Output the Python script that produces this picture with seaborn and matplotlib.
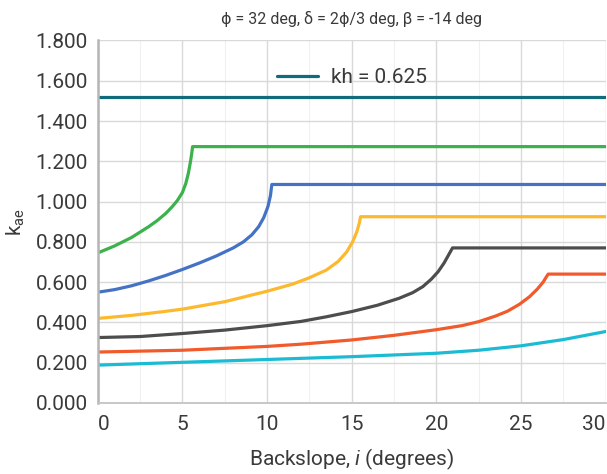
import matplotlib
matplotlib.use("Agg")
import matplotlib.pyplot as plt
import seaborn as sns
import pandas as pd
from matplotlib.ticker import MultipleLocator

# ---- data ----
teal_x = [0, 30]
teal_y = [1.52, 1.52]

green_x = [0, 1, 2, 3, 3.5, 4, 4.4, 4.7, 5.0, 5.2, 5.35, 5.48, 5.56, 5.6, 30]
green_y = [0.745, 0.78, 0.822, 0.875, 0.905, 0.94, 0.975, 1.005, 1.045, 1.09, 1.14, 1.2, 1.245, 1.273, 1.273]

blue_x = [0, 1, 2, 3, 4, 5, 6, 7, 8, 8.6, 9.1, 9.5, 9.8, 10.05, 10.2, 10.28, 30]
blue_y = [0.55, 0.563, 0.582, 0.606, 0.633, 0.663, 0.695, 0.73, 0.77, 0.80, 0.835, 0.875, 0.92, 0.975, 1.03, 1.085, 1.085]

yellow_x = [0, 2, 4, 5, 7.5, 10, 11.5, 12.5, 13.5, 14.2, 14.7, 15.05, 15.3, 15.45, 15.52, 30]
yellow_y = [0.42, 0.435, 0.455, 0.466, 0.503, 0.555, 0.59, 0.622, 0.66, 0.703, 0.75, 0.8, 0.85, 0.895, 0.925, 0.925]

gray_x = [0, 2.5, 5, 7.5, 10, 12, 13.5, 15, 16.5, 17.8, 18.6, 19.2, 19.7, 20.1, 20.45, 20.75, 20.95, 30]
gray_y = [0.325, 0.33, 0.345, 0.362, 0.384, 0.405, 0.428, 0.454, 0.485, 0.52, 0.548, 0.578, 0.615, 0.652, 0.695, 0.74, 0.77, 0.77]

orange_x = [0, 5, 10, 12, 15, 17.5, 20, 21.5, 22.5, 23.5, 24.2, 24.9, 25.5, 25.95, 26.3, 26.52, 26.6, 30]
orange_y = [0.253, 0.262, 0.281, 0.292, 0.313, 0.336, 0.364, 0.384, 0.404, 0.432, 0.456, 0.49, 0.528, 0.565, 0.6, 0.63, 0.64, 0.64]

cyan_x = [0, 5, 10, 15, 20, 22.5, 25, 27.5, 30]
cyan_y = [0.188, 0.202, 0.216, 0.23, 0.247, 0.262, 0.284, 0.315, 0.355]

series = [
    ("kh = 0.625", teal_x, teal_y, "#116b7b", True),
    ("g", green_x, green_y, "#3bb24b", False),
    ("b", blue_x, blue_y, "#4472c4", False),
    ("y", yellow_x, yellow_y, "#fdb92d", False),
    ("k", gray_x, gray_y, "#4d4d4d", False),
    ("o", orange_x, orange_y, "#f15a2b", False),
    ("c", cyan_x, cyan_y, "#1bbcd3", False),
]

x_ticks = [0, 5, 10, 15, 20, 25, 30]
y_ticks = [0.0, 0.2, 0.4, 0.6, 0.8, 1.0, 1.2, 1.4, 1.6, 1.8]

title = "\u03d5 = 32 deg, \u03b4 = 2\u03d5/3 deg, \u03b2 = -14 deg"

# ---- style ----
sns.set_theme(style="white")
plt.rcParams["font.family"] = ["Roboto", "DejaVu Sans"]
plt.rcParams["mathtext.fontset"] = "custom"
plt.rcParams["mathtext.rm"] = "Roboto"
plt.rcParams["mathtext.it"] = "Roboto:italic"

txt = "#3a3a3a"
fig = plt.figure(figsize=(6.07, 4.74), dpi=100)
ax = fig.add_axes([0.161, 0.1498, 0.837, 0.7648])

for name, xs, ys, col, leg in series:
    df = pd.DataFrame({"x": xs, "y": ys})
    sns.lineplot(data=df, x="x", y="y", ax=ax, color=col, linewidth=2.3,
                 estimator=None, sort=False, label=name if leg else None,
                 legend=leg)

ax.set_xlim(0, 30)
ax.set_ylim(0, 1.8)
ax.set_xticks(x_ticks)
ax.set_yticks(y_ticks)
ax.set_yticklabels([f"{v:.3f}" for v in y_ticks])
ax.xaxis.set_minor_locator(MultipleLocator(2.5))
ax.grid(True, which="major", color="#d9d9d9", linewidth=1.0)
ax.grid(True, which="minor", axis="x", color="#f0f0f0", linewidth=0.8)
ax.set_axisbelow(True)

for s in ["top", "right"]:
    ax.spines[s].set_visible(False)
ax.spines["left"].set_color("#b5b5b5")
ax.spines["left"].set_linewidth(1.8)
ax.spines["bottom"].set_color("#c4c4c4")
ax.spines["bottom"].set_linewidth(1.3)

ax.tick_params(axis="both", which="both", length=0, labelsize=15, colors=txt)
ax.tick_params(axis="y", pad=7)
ax.tick_params(axis="x", pad=9)
xl = ax.get_xticklabels()
xl[0].set_ha("left")
xl[-1].set_ha("right")

ax.set_xlabel("Backslope, $\\mathit{i}$ (degrees)", fontsize=15, color=txt, labelpad=9)
ax.set_ylabel("k$_{\\mathregular{ae}}$", fontsize=15, color=txt, labelpad=6)
ax.set_title(title, fontsize=11.5, color=txt, pad=12)

leg = ax.legend(loc="center", bbox_to_anchor=(0.5, 0.897), frameon=False,
                fontsize=15, handlelength=2.0, handletextpad=0.6,
                labelcolor=txt)

fig.savefig("out.png", dpi=100)
